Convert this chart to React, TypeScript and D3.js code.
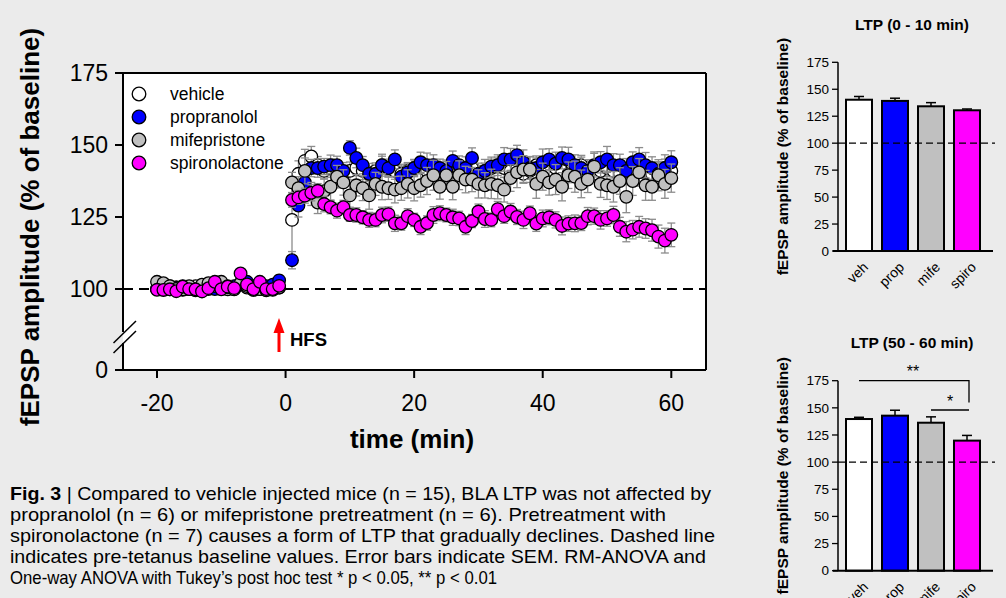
import React from 'react';
import * as d3 from 'd3';

// time points (min), 20 baseline + 60 after HFS
const times = [
  -20, -19, -18, -17, -16, -15, -14, -13, -12, -11, -10, -9, -8, -7, -6, -5, -4, -3, -2, -1,
  1, 2, 3, 4, 5, 6, 7, 8, 9, 10, 11, 12, 13, 14, 15, 16, 17, 18, 19, 20,
  21, 22, 23, 24, 25, 26, 27, 28, 29, 30, 31, 32, 33, 34, 35, 36, 37, 38, 39, 40,
  41, 42, 43, 44, 45, 46, 47, 48, 49, 50, 51, 52, 53, 54, 55, 56, 57, 58, 59, 60,
];

const vehicle = [
  100, 99.5, 101, 100.5, 99, 100, 101, 99.5, 100, 100.5, 101, 99.5, 100, 101.5, 100.5, 99, 100, 100.5, 99.5, 100.5,
  124, 140, 144.5, 146, 143, 141, 142, 141, 140, 141,
  142, 141, 140, 141, 143, 142, 141, 140, 141, 142,
  143, 141, 142, 140, 141, 143, 142, 141, 142, 140,
  141, 142, 143, 142, 141, 142, 140, 141, 143, 142,
  141, 142, 141, 140, 142, 143, 141, 140, 141, 142,
  141, 140, 139, 141, 142, 141, 140, 141, 142, 141,
];
const vehicleSem = [
  1.2, 1.0, 1.1, 0.9, 1.3, 1.0, 0.8, 1.1, 1.2, 0.9, 1.0, 1.3, 0.9, 1.1, 1.0, 0.8, 1.2, 0.9, 1.1, 1.0,
  13, 4.5, 4, 3.5, 3, 2.8, 3.2, 2.6, 2.9, 3.1,
  2.7, 3, 2.5, 2.8, 3.1, 2.6, 2.9, 3.3, 2.7, 2.8,
  3, 2.6, 3.1, 2.9, 2.7, 3.2, 2.8, 2.6, 3, 2.9,
  2.7, 3.1, 2.8, 3.3, 2.6, 2.9, 3, 2.7, 3.2, 2.8,
  2.6, 3, 2.9, 3.1, 2.7, 2.8, 3.2, 2.6, 2.9, 3,
  2.8, 3.1, 2.7, 2.9, 3.2, 2.6, 3, 2.8, 3.1, 2.9,
];

const propranolol = [
  100, 101, 99.5, 100.5, 101, 100, 99.5, 101, 100.5, 100, 101.5, 100.5, 101, 102, 102.5, 101, 100.5, 101, 101.5, 103,
  110, 129, 137, 142, 142, 142.5, 143, 143, 141, 149,
  145.5, 143, 140, 140, 143, 142, 145, 139, 140.5, 142,
  144, 143, 143, 142, 141, 144.5, 143, 142, 145.5, 140,
  141, 142.5, 143, 145, 145, 146.5, 144, 142, 142, 144,
  145, 143.5, 145.5, 145, 143, 142, 141, 143, 144, 145,
  143, 143, 141, 144, 145, 143, 142, 140, 142, 144,
];
const propranololSem = [
  1.5, 1.3, 1.6, 1.2, 1.4, 1.5, 1.1, 1.3, 1.6, 1.4, 1.2, 1.5, 1.3, 1.4, 1.6, 1.2, 1.5, 1.3, 1.4, 1.8,
  3, 4, 3.5, 3, 3.2, 2.8, 3.5, 3.1, 2.9, 2.5,
  3.4, 3, 3.6, 3.2, 3.8, 3.1, 3.3, 3.7, 3.4, 3,
  3.5, 4.2, 3.6, 3.1, 3.8, 3.4, 3.2, 3.9, 3.5, 3.7,
  4, 3.3, 3.6, 4.1, 3.8, 3.4, 4.3, 3.9, 3.5, 4.6,
  3.7, 4, 3.8, 4.2, 3.6, 4.4, 3.9, 4.1, 3.7, 4.5,
  4, 3.8, 4.3, 3.6, 4.1, 4.4, 3.9, 4.2, 4.6, 4,
];

const mifepristone = [
  102.5, 102, 101, 100, 99.5, 101, 98.5, 101.5, 102, 101, 102.5, 101, 99.5, 102, 101, 99, 100, 98.5, 99, 100.5,
  137, 135, 141, 133, 130, 134, 135.5, 139, 137, 132.5,
  136, 135, 132.5, 136.5, 135.5, 135, 134.5, 135, 136.5, 135,
  136, 137.5, 139.5, 135.5, 139.5, 135.5, 139.5, 138, 138, 136.5,
  136, 136.5, 136, 134.5, 138.5, 140.5, 141.5, 141.5, 136.5, 139,
  137, 138, 135.5, 139.5, 139, 136.5, 138, 142.5, 136.5, 136,
  135.5, 137.5, 132, 137.5, 140.5, 136, 135.5, 139.5, 136.5, 138.5,
];
const mifepristoneSem = [
  1.8, 1.5, 1.7, 1.4, 1.6, 1.9, 1.5, 1.3, 1.7, 1.6, 1.4, 1.8, 2.5, 1.5, 1.6, 1.9, 1.4, 1.7, 1.5, 1.6,
  3.5, 4, 4.5, 4, 3.8, 4.2, 4.6, 3.9, 4.4, 4.1,
  3.7, 4.3, 4.8, 4.0, 4.5, 3.9, 4.6, 4.2, 4.9, 4.4,
  4.1, 4.7, 5.2, 4.3, 4.8, 4.5, 5, 4.6, 4.2, 4.9,
  4.4, 5.1, 4.7, 4.3, 4.6, 5.3, 4.8, 4.5, 5, 4.7,
  4.4, 5.2, 4.9, 4.6, 5.4, 4.8, 4.5, 5.1, 4.7, 4.9,
  5.3, 4.6, 5.5, 5, 4.8, 5.2, 4.7, 5.4, 5, 4.9,
];

const spironolactone = [
  99, 98.8, 99.6, 97.3, 100.8, 99.9, 99.6, 97, 100.3, 102.5, 99.7, 100.8, 100.3, 105.4, 101.6, 99.9, 102.5, 99.9, 99.9, 101.1,
  130.9, 131.8, 132.4, 133.4, 134.1, 129.5, 128.4, 127.2, 128.4, 125.7,
  125.7, 124.9, 124, 124, 125.7, 126, 122.8, 122.8, 125.3, 124,
  121.6, 122.9, 125.7, 126.3, 125.7, 124.9, 124.5, 121.6, 123.6, 126.9,
  124.3, 124, 127.7, 125.3, 126.9, 125, 124, 126.3, 122.7, 124.5,
  124.9, 124, 121.9, 122.7, 122.8, 122.9, 125.3, 125.3, 124, 124.5,
  125.7, 121.6, 119.9, 120.6, 121.6, 121, 120.4, 118.2, 116.8, 118.8,
];
const spironolactoneSem = [
  1.2, 1.0, 1.3, 1.1, 0.9, 1.2, 1.4, 1.0, 1.1, 1.3, 1.0, 1.2, 0.9, 1.4, 1.1, 1.0, 1.3, 1.2, 1.0, 1.1,
  2.5, 2.4, 2.6, 2.8, 2.5, 2.7, 2.3, 2.6, 2.4, 2.2,
  2.5, 2.3, 2.6, 2.4, 2.7, 2.5, 2.8, 2.4, 2.6, 2.3,
  2.7, 2.5, 2.9, 2.6, 2.4, 2.8, 2.5, 2.7, 2.3, 2.6,
  2.9, 2.4, 2.7, 2.5, 2.8, 2.6, 3, 2.5, 2.7, 2.9,
  2.6, 2.8, 3.1, 2.7, 2.9, 2.6, 3, 2.8, 3.2, 2.7,
  3, 3.3, 3.5, 3.2, 3.6, 3.4, 3.8, 4, 4.3, 4.1,
];

const seriesNames = ['vehicle', 'propranolol', 'mifepristone', 'spironolactone'];
const seriesValues = [vehicle, propranolol, mifepristone, spironolactone];
const seriesSem = [vehicleSem, propranololSem, mifepristoneSem, spironolactoneSem];
const colors = ['#ffffff', '#0000ff', '#c0c0c0', '#ff00ff'];

const xTicks = [-20, 0, 20, 40, 60];
const yTicks = [0, 100, 125, 150, 175];

// bar charts
const barCats = ['veh', 'prop', 'mife', 'spiro'];
const early = [140.3, 139.2, 134.2, 130.5];
const earlySem = [3, 2.5, 3.4, 1.2];
const late = [139.7, 142.8, 136.3, 119.8];
const lateSem = [1.6, 5, 5.4, 4.8];

const caption = [
  ' | Compared to vehicle injected mice (n = 15), BLA LTP was not affected by',
  'propranolol (n = 6) or mifepristone pretreatment (n = 6). Pretreatment with',
  'spironolactone (n = 7) causes a form of LTP that gradually declines. Dashed line',
  'indicates pre-tetanus baseline values. Error bars indicate SEM. RM-ANOVA and',
  'One-way ANOVA with Tukey\u2019s post hoc test * p < 0.05, ** p < 0.01',
];
// rendered width of each caption line in the figure
const captionWidths = [701, 656, 705, 696, 487];

const font = 'Liberation Sans, Arial, Helvetica, sans-serif';

const x = d3.scaleLinear().domain([-20, 60]).range([157, 671.3]);
const y = d3.scaleLinear().domain([0, 100, 175]).range([370, 289, 73]);
const frameL = 123, frameR = 706, frameT = 73, frameB = 370;

const BarChart = ({ title, values, sem, top, bottom, titleY, sig }) => {
  const xb = d3.scaleBand().domain(barCats).range([841, 985]).paddingInner(0.2778).paddingOuter(0.139);
  const yb = d3.scaleLinear().domain([0, 175]).range([bottom, top]);
  const ax = 838;
  return (
    <g fontFamily={font}>
      <text x={912} y={titleY} textAnchor="middle" dy="0.35em" fontWeight="bold" fontSize={15.5}>{title}</text>
      <text transform={`translate(783,${(top + bottom) / 2 + 0}) rotate(-90)`} textAnchor="middle" dy="0.35em"
        fontWeight="bold" fontSize={15.5}>fEPSP amplitude (% of baseline)</text>
      {barCats.map((c, i) => {
        const bx = xb(c);
        const cx = bx + xb.bandwidth() / 2;
        return (
          <g key={c}>
            <line x1={cx} x2={cx} y1={yb(values[i])} y2={yb(values[i] + sem[i])} stroke="#000" strokeWidth={1.5} />
            <line x1={cx - 5} x2={cx + 5} y1={yb(values[i] + sem[i])} y2={yb(values[i] + sem[i])} stroke="#000" strokeWidth={1.5} />
            <rect x={bx} y={yb(values[i])} width={xb.bandwidth()} height={yb(0) - yb(values[i])}
              fill={colors[i]} stroke="#000" strokeWidth={2} />
            <text transform={`translate(${cx + 3},${yb(0) + 10}) rotate(-45)`} textAnchor="end" dy="0.7em" fontSize={14}>{c}</text>
          </g>
        );
      })}
      <line x1={ax} x2={995} y1={yb(100)} y2={yb(100)} stroke="#000" strokeWidth={1.3} strokeDasharray="7,4" />
      <line x1={ax} x2={ax} y1={yb(175)} y2={yb(0)} stroke="#000" strokeWidth={1.5} />
      <line x1={833} x2={993} y1={yb(0)} y2={yb(0)} stroke="#000" strokeWidth={2} />
      {[0, 25, 50, 75, 100, 125, 150, 175].map(t => (
        <g key={t}>
          <line x1={ax - 6} x2={ax} y1={yb(t)} y2={yb(t)} stroke="#000" strokeWidth={1.3} />
          <text x={ax - 9} y={yb(t)} dy="0.35em" textAnchor="end" fontSize={13.5}>{t}</text>
        </g>
      ))}
      {sig && (() => {
        const c0 = xb('veh') + xb.bandwidth() / 2;
        const c2 = xb('mife') + xb.bandwidth() / 2;
        const c3 = xb('spiro') + xb.bandwidth() / 2;
        return (
          <g stroke="#000" strokeWidth={1.3} fill="none">
            <polyline points={`${c0},${yb(175)} ${c3 + 2},${yb(175)} ${c3 + 2},${yb(155)}`} />
            <line x1={c2} x2={c3 + 2} y1={yb(148)} y2={yb(148)} />
            <text x={(c0 + c3) / 2} y={yb(175) - 4} textAnchor="middle" fontSize={16} stroke="none" fill="#000">**</text>
            <text x={(c2 + c3) / 2 + 1} y={yb(148) - 3} textAnchor="middle" fontSize={16} stroke="none" fill="#000">*</text>
          </g>
        );
      })()}
    </g>
  );
};

export default function App() {
  const legendY = [94, 117, 140, 163];
  return (
    <svg width={1006} height={598} style={{ position: 'absolute', left: 0, top: 0 }} fontFamily={font}>
      <rect width={1006} height={598} fill="#ebebeb" />
      {/* main plot */}
      <rect x={frameL} y={frameT} width={frameR - frameL} height={frameB - frameT} fill="#fff" />
      <line x1={frameL} x2={frameR} y1={y(100)} y2={y(100)} stroke="#000" strokeWidth={1.8} strokeDasharray="10,6" />
      {seriesValues.map((vals, s) => (
        <g key={seriesNames[s]}>
          <g stroke="#8c8c8c" strokeWidth={1.3}>
            {vals.map((v, i) => {
              const cx = x(times[i]);
              const e = seriesSem[s][i];
              return (
                <g key={i}>
                  <line x1={cx} x2={cx} y1={y(v - e)} y2={y(v + e)} />
                  <line x1={cx - 4} x2={cx + 4} y1={y(v - e)} y2={y(v - e)} />
                  <line x1={cx - 4} x2={cx + 4} y1={y(v + e)} y2={y(v + e)} />
                </g>
              );
            })}
          </g>
          <g fill={colors[s]} stroke="#000" strokeWidth={1.3}>
            {vals.map((v, i) => <circle key={i} cx={x(times[i])} cy={y(v)} r={6.3} />)}
          </g>
        </g>
      ))}
      {/* legend */}
      {seriesNames.map((n, i) => (
        <g key={n}>
          <circle cx={139} cy={legendY[i]} r={6.8} fill={colors[i]} stroke="#000" strokeWidth={1.3} />
          <text x={170} y={legendY[i]} dy="0.35em" fontSize={17.5}>{n}</text>
        </g>
      ))}
      {/* frame and axes */}
      <line x1={frameL} x2={frameR} y1={frameT} y2={frameT} stroke="#000" strokeWidth={2} />
      <line x1={frameR} x2={frameR} y1={frameT} y2={frameB} stroke="#000" strokeWidth={2} />
      <line x1={frameL} x2={frameL} y1={frameT} y2={332} stroke="#000" strokeWidth={2} />
      <line x1={frameL} x2={frameL} y1={343} y2={frameB} stroke="#000" strokeWidth={2} />
      <line x1={113.5} x2={136} y1={343} y2={321} stroke="#000" strokeWidth={1.5} />
      <line x1={113.5} x2={136} y1={353} y2={331} stroke="#000" strokeWidth={1.5} />
      <line x1={117} x2={frameR} y1={frameB} y2={frameB} stroke="#000" strokeWidth={2} />
      {yTicks.map(t => (
        <g key={t}>
          <line x1={frameL - 8} x2={frameL} y1={y(t)} y2={y(t)} stroke="#000" strokeWidth={2} />
          <text x={frameL - 15} y={y(t)} dy="0.35em" textAnchor="end" fontSize={23}>{t}</text>
        </g>
      ))}
      {xTicks.map(t => (
        <g key={t}>
          <line x1={x(t)} x2={x(t)} y1={frameB} y2={frameB + 8} stroke="#000" strokeWidth={2} />
          <text x={x(t)} y={403} dy="0.35em" textAnchor="middle" fontSize={23}>{t}</text>
        </g>
      ))}
      <text x={412} y={439} dy="0.35em" textAnchor="middle" fontSize={26} fontWeight="bold">time (min)</text>
      <text transform="translate(30,227) rotate(-90)" dy="0.35em" textAnchor="middle" fontSize={26} fontWeight="bold">
        fEPSP amplitude (% of baseline)
      </text>
      {/* HFS arrow */}
      <line x1={279} x2={279} y1={352} y2={330} stroke="#ff0000" strokeWidth={3} />
      <polygon points="273.5,333 284.5,333 279,318" fill="#ff0000" />
      <text x={290} y={340} dy="0.35em" fontSize={18.5} fontWeight="bold">HFS</text>
      {/* bar charts */}
      <BarChart title="LTP (0 - 10 min)" values={early} sem={earlySem} top={62.3} bottom={251} titleY={25} sig={false} />
      <BarChart title="LTP (50 - 60 min)" values={late} sem={lateSem} top={380.7} bottom={570.7} titleY={343} sig={true} />
      {/* caption */}
      <g fontSize={19}>
        {caption.map((line, i) => (
          <text key={i} x={10} y={500 + i * 21} textLength={captionWidths[i]} lengthAdjust="spacingAndGlyphs">
            {i === 0 && <tspan fontWeight="bold">Fig. 3</tspan>}
            {line}
          </text>
        ))}
      </g>
    </svg>
  );
}
